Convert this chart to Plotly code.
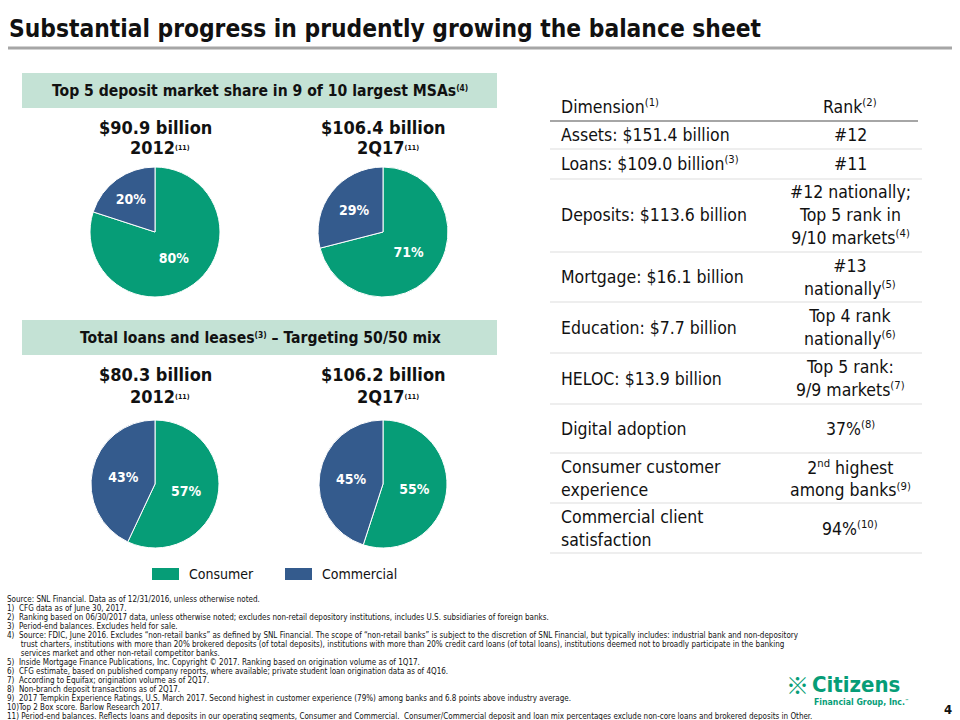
import plotly.graph_objects as go

# ---------------- data ----------------
segments = ["Consumer", "Commercial"]
periods = ["2012", "2Q17"]
deposit_totals = ["$90.9 billion", "$106.4 billion"]
deposit_consumer = [80, 71]
deposit_commercial = [20, 29]
loan_totals = ["$80.3 billion", "$106.2 billion"]
loan_consumer = [57, 55]
loan_commercial = [43, 45]

SUP = "<span style='font-size:%spx'><sup>%s</sup></span>"

table_dimensions = [
    "Assets: $151.4 billion",
    "Loans: $109.0 billion" + SUP % (16, "(3)"),
    "Deposits: $113.6 billion",
    "Mortgage: $16.1 billion",
    "Education: $7.7 billion",
    "HELOC: $13.9 billion",
    "Digital adoption",
    "Consumer customer<br>experience",
    "Commercial client<br>satisfaction",
]
table_ranks = [
    "#12",
    "#11",
    "#12 nationally;<br>Top 5 rank in<br>9/10 markets" + SUP % (16, "(4)"),
    "#13<br>nationally" + SUP % (16, "(5)"),
    "Top 4 rank<br>nationally" + SUP % (16, "(6)"),
    "Top 5 rank:<br>9/9 markets" + SUP % (16, "(7)"),
    "37%" + SUP % (16, "(8)"),
    "2" + SUP % (16, "nd") + " highest<br>among banks" + SUP % (16, "(9)"),
    "94%" + SUP % (16, "(10)"),
]

footnotes = [
    "Source: SNL Financial. Data as of 12/31/2016, unless otherwise noted.",
    "1)  CFG data as of June 30, 2017.",
    "2)  Ranking based on 06/30/2017 data, unless otherwise noted; excludes non-retail depository institutions, includes U.S. subsidiaries of foreign banks.",
    "3)  Period-end balances. Excludes held for sale.",
    "4)  Source: FDIC, June 2016. Excludes “non-retail banks” as defined by SNL Financial. The scope of “non-retail banks” is subject to the discretion of SNL Financial, but typically includes: industrial bank and non-depository",
    "      trust charters, institutions with more than 20% brokered deposits (of total deposits), institutions with more than 20% credit card loans (of total loans), institutions deemed not to broadly participate in the banking",
    "      services market and other non-retail competitor banks.",
    "5)  Inside Mortgage Finance Publications, Inc. Copyright © 2017. Ranking based on origination volume as of 1Q17.",
    "6)  CFG estimate, based on published company reports, where available; private student loan origination data as of 4Q16.",
    "7)  According to Equifax; origination volume as of 2Q17.",
    "8)  Non-branch deposit transactions as of 2Q17.",
    "9)  2017 Tempkin Experience Ratings, U.S. March 2017. Second highest in customer experience (79%) among banks and 6.8 points above industry average.",
    "10)Top 2 Box score. Barlow Research 2017.",
    "11) Period-end balances. Reflects loans and deposits in our operating segments, Consumer and Commercial.  Consumer/Commercial deposit and loan mix percentages exclude non-core loans and brokered deposits in Other.",
]

# ---------------- styling / layout ----------------
W, H = 960, 720
GREEN = "#069D77"
BLUE = "#345B8D"
BAND = "#C4E2D5"
FONT = "DejaVu Sans Condensed, DejaVu Sans, sans-serif"
TXT = "#111111"

def px(x):
    return x / W

def py(y):
    return 1 - y / H

fig = go.Figure()
annotations = []
shapes = []

def text(x, y, s, size, bold=False, xanchor="left", color=TXT, align="left", family=FONT):
    annotations.append(dict(
        x=px(x), y=py(y), xref="paper", yref="paper", text=("<b>%s</b>" % s) if bold else s,
        showarrow=False, xanchor=xanchor, yanchor="middle", align=align,
        font=dict(family=family, size=size, color=color)))

def add_pie(cx, cy, r, consumer, commercial):
    fig.add_trace(go.Pie(
        labels=segments, values=[consumer, commercial], sort=False, direction="clockwise",
        rotation=0, marker=dict(colors=[GREEN, BLUE], line=dict(color="white", width=1)),
        texttemplate="<b>%{percent:.0%}</b>", textposition="inside",
        insidetextorientation="horizontal",
        textfont=dict(family=FONT, size=14, color="white"), showlegend=False,
        domain=dict(x=[px(cx - r), px(cx + r)], y=[py(cy + r), py(cy - r)]),
        hoverinfo="label+percent"))

# title
text(7, 29, "Substantial progress in prudently growing the balance sheet", 24.3, bold=True)
shapes.append(dict(type="line", xref="paper", yref="paper", x0=px(8), x1=px(952), y0=py(48), y1=py(48),
                   line=dict(color="#A6A6A6", width=3)))

# bands
for (y0, y1, s) in [(73, 108, "Top 5 deposit market share in 9 of 10 largest MSAs" + SUP % (12, "(4)")),
                    (320, 355, "Total loans and leases" + SUP % (12, "(3)") + " – Targeting 50/50 mix")]:
    shapes.append(dict(type="rect", xref="paper", yref="paper", x0=px(22), x1=px(497), y0=py(y1), y1=py(y0),
                       fillcolor=BAND, line=dict(width=0), layer="below"))
    text(260, (y0 + y1) / 2, s, 15.6, bold=True, xanchor="center")

# pies
pie_cx = [155, 383]
dep_cy, loan_cy = 232, 484
R = 65
for i in range(2):
    add_pie(pie_cx[i], dep_cy, R, deposit_consumer[i], deposit_commercial[i])
    add_pie(pie_cx[i], loan_cy, R - 1, loan_consumer[i], loan_commercial[i])
    text(pie_cx[i], 127, deposit_totals[i], 18, bold=True, xanchor="center")
    text(pie_cx[i] + 5, 148, periods[i] + SUP % (10, "(11)"), 18, bold=True, xanchor="center")
    text(pie_cx[i], 374, loan_totals[i], 18, bold=True, xanchor="center")
    text(pie_cx[i] + 5, 396, periods[i] + SUP % (10, "(11)"), 18, bold=True, xanchor="center")

# legend
leg_x = [152, 285]
for i, seg in enumerate(segments):
    shapes.append(dict(type="rect", xref="paper", yref="paper", x0=px(leg_x[i]), x1=px(leg_x[i] + 27),
                       y0=py(580), y1=py(568), fillcolor=[GREEN, BLUE][i], line=dict(width=0)))
    text(leg_x[i] + 35, 574, seg, 14)

# table
tx_left, tx_right = 550, 922
dim_x, rank_x = 559, 850
text(dim_x, 106, "Dimension" + SUP % (16, "(1)"), 17.5)
text(rank_x, 106, "Rank" + SUP % (16, "(2)"), 17.5, xanchor="center")
shapes.append(dict(type="line", xref="paper", yref="paper", x0=px(tx_left), x1=px(918), y0=py(121), y1=py(121),
                   line=dict(color="#A6A6A6", width=2)))
row_lines = [121, 149, 179, 252, 302, 353, 404, 453, 503, 553]
for i, (d, r) in enumerate(zip(table_dimensions, table_ranks)):
    yc = (row_lines[i] + row_lines[i + 1]) / 2
    text(dim_x, yc, d, 17.5)
    text(rank_x, yc, r, 17.5, xanchor="center", align="center")
    shapes.append(dict(type="line", xref="paper", yref="paper", x0=px(tx_left), x1=px(tx_right),
                       y0=py(row_lines[i + 1]), y1=py(row_lines[i + 1]), line=dict(color="#DDDDDD", width=1)))

# footnotes
for i, f in enumerate(footnotes):
    text(5, 599 + i * 9.0, f, 8.0)

# logo
text(810, 684, "Citizens", 22, bold=True, color=GREEN)
text(812, 702, "Financial Group, Inc." + SUP % (6, "™"), 8.7, bold=True, color=GREEN)
text(797, 684, "※", 23, bold=True, color=GREEN, xanchor="center", family="Noto Sans CJK SC")
text(948, 709, "4", 13, bold=True, xanchor="center")

fig.update_layout(width=W, height=H, margin=dict(l=0, r=0, t=0, b=0), paper_bgcolor="white",
                  plot_bgcolor="white", annotations=annotations, shapes=shapes, showlegend=False)
fig.write_html("out.html", config={"displayModeBar": False},
               post_script="document.body.style.margin='0px';")
